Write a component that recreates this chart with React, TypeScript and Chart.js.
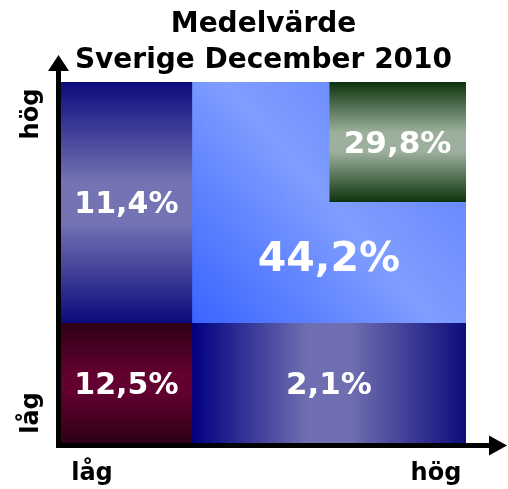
import React, { useEffect, useRef } from 'react';
import { Chart, registerables } from 'chart.js';

Chart.register(...registerables);

// ---- data ----
const titleLines = ['Medelvärde', 'Sverige December 2010'];
const rowCategories = ['hög', 'mellan', 'låg']; // top → bottom
const xAxisLabels = ['låg', 'hög'];
const yAxisLabels = ['låg', 'hög'];

const shareLabels = ['11,4%', '44,2%', '29,8%', '12,5%', '2,1%'];
// floating horizontal segments per row [start, end] on a 0–100 scale
const segLeftUpper = [[0, 32.3], [0, 32.3], null];
const segCenter = [[32.3, 66.2], [32.3, 100], null];
const segTopRight = [[66.2, 100], null, null];
const segLowLeft = [null, null, [0, 32.3]];
const segLowRight = [null, null, [32.3, 100]];

const segments = [segLeftUpper, segCenter, segTopRight, segLowLeft, segLowRight];
const gradientKinds = ['vertical', 'diagonal', 'vertical', 'vertical', 'horizontal'];
const gradientColors = [
  ['#0b0b7d', '#7474b4', '#7474b4', '#0b0b7d'],
  ['#3a64ff', '#7f9eff', '#7f9eff', '#5a7aff'],
  ['#0c330c', '#9db09d', '#9db09d', '#0c330c'],
  ['#2d0017', '#62002f', '#62002f', '#2d0017'],
  ['#000080', '#6e6eb0', '#6e6eb0', '#0d0d7d'],
];
const labelSizes = [30, 41, 31, 30, 31];

const FONT = '"DejaVu Sans", Verdana, sans-serif';

function segBox(chart: any, seg: any[], onlyWidest: boolean) {
  const xs = chart.scales.x;
  const ys = chart.scales.y;
  const half = (ys.bottom - ys.top) / rowCategories.length / 2;
  let maxW = 0;
  seg.forEach((s) => {
    if (s) maxW = Math.max(maxW, s[1] - s[0]);
  });
  let x0 = Infinity, x1 = -Infinity, y0 = Infinity, y1 = -Infinity;
  seg.forEach((s, i) => {
    if (!s) return;
    if (onlyWidest && s[1] - s[0] < maxW - 1e-9) return;
    const yc = ys.getPixelForValue(i);
    x0 = Math.min(x0, xs.getPixelForValue(s[0]));
    x1 = Math.max(x1, xs.getPixelForValue(s[1]));
    y0 = Math.min(y0, yc - half);
    y1 = Math.max(y1, yc + half);
  });
  return { x0, x1, y0, y1 };
}

function makeGradient(chart: any, di: number) {
  const { ctx, chartArea } = chart;
  if (!chartArea) return gradientColors[di][1];
  const b = segBox(chart, segments[di], false);
  let g: CanvasGradient;
  const kind = gradientKinds[di];
  if (kind === 'vertical') g = ctx.createLinearGradient(0, b.y0, 0, b.y1);
  else if (kind === 'horizontal') g = ctx.createLinearGradient(b.x0, 0, b.x1, 0);
  else g = ctx.createLinearGradient(b.x0, b.y1, b.x1, b.y0);
  const cols = gradientColors[di];
  const stops = kind === 'diagonal' ? [0, 0.5, 0.5, 1] : [0, 0.42, 0.58, 1];
  cols.forEach((c, i) => g.addColorStop(stops[i], c));
  return g;
}

const overlayPlugin = {
  id: 'overlay',
  afterDatasetsDraw(chart: any) {
    const { ctx, chartArea: ca } = chart;
    ctx.save();
    // percentage labels
    ctx.fillStyle = '#ffffff';
    ctx.textAlign = 'center';
    ctx.textBaseline = 'middle';
    segments.forEach((seg, di) => {
      const b = segBox(chart, seg, true);
      const full = segBox(chart, seg, false);
      // for L-shaped regions pull the label slightly towards the region's overall centre
      const yc = (b.y0 + b.y1) / 2 * 0.92 + (full.y0 + full.y1) / 2 * 0.08;
      ctx.font = `bold ${labelSizes[di]}px ${FONT}`;
      ctx.fillText(shareLabels[di], (b.x0 + b.x1) / 2, yc + 3);
    });

    // axes with arrows
    ctx.fillStyle = '#000000';
    const lw = 5;
    // y axis
    ctx.fillRect(ca.left - lw, ca.top - 12, lw, ca.bottom - ca.top + 12 + lw);
    const ycx = ca.left - lw / 2;
    ctx.beginPath();
    ctx.moveTo(ycx - 10.5, ca.top - 11);
    ctx.lineTo(ycx + 10.5, ca.top - 11);
    ctx.lineTo(ycx, ca.top - 27);
    ctx.closePath();
    ctx.fill();
    // x axis
    ctx.fillRect(ca.left - lw, ca.bottom, ca.right - ca.left + lw + 24, lw);
    const xcy = ca.bottom + lw / 2;
    ctx.beginPath();
    ctx.moveTo(ca.right + 23, xcy - 10);
    ctx.lineTo(ca.right + 23, xcy + 10);
    ctx.lineTo(ca.right + 41, xcy);
    ctx.closePath();
    ctx.fill();

    // axis labels
    ctx.font = `bold 24px ${FONT}`;
    ctx.textBaseline = 'alphabetic';
    ctx.textAlign = 'center';
    ctx.fillText(xAxisLabels[0], ca.left + 31, ca.bottom + 37);
    ctx.fillText(xAxisLabels[1], ca.right - 30, ca.bottom + 37);
    const yl = [ca.bottom - 30, ca.top + 32];
    yAxisLabels.forEach((t, i) => {
      ctx.save();
      ctx.translate(ca.left - 23, yl[i]);
      ctx.rotate(-Math.PI / 2);
      ctx.fillText(t, 0, 0);
      ctx.restore();
    });

    // title
    ctx.font = `bold 28px ${FONT}`;
    const cx = (ca.left + ca.right) / 2;
    ctx.fillText(titleLines[0], cx, 32);
    ctx.fillText(titleLines[1], cx, 68);
    ctx.restore();
  },
};

export default function App() {
  const ref = useRef<HTMLCanvasElement>(null);
  useEffect(() => {
    if (!ref.current) return;
    const chart = new Chart(ref.current, {
      type: 'bar',
      data: {
        labels: rowCategories,
        datasets: segments.map((seg, di) => ({
          label: shareLabels[di],
          data: seg as any,
          backgroundColor: (c: any) => makeGradient(c.chart, di),
          borderWidth: 0,
          barPercentage: 1,
          categoryPercentage: 1,
          grouped: false,
        })),
      },
      options: {
        indexAxis: 'y',
        responsive: false,
        animation: false,
        devicePixelRatio: 1,
        layout: { padding: { left: 61, top: 82, right: 42, bottom: 46 } },
        scales: {
          x: { type: 'linear', min: 0, max: 100, display: false },
          y: { type: 'category', display: false },
        },
        plugins: { legend: { display: false }, tooltip: { enabled: false }, title: { display: false } },
      },
      plugins: [overlayPlugin],
    } as any);
    return () => chart.destroy();
  }, []);
  return (
    <div style={{ position: 'absolute', left: 0, top: 0, width: 508, height: 489, background: '#fff' }}>
      <canvas ref={ref} width={508} height={489} style={{ width: 508, height: 489 }} />
    </div>
  );
}
